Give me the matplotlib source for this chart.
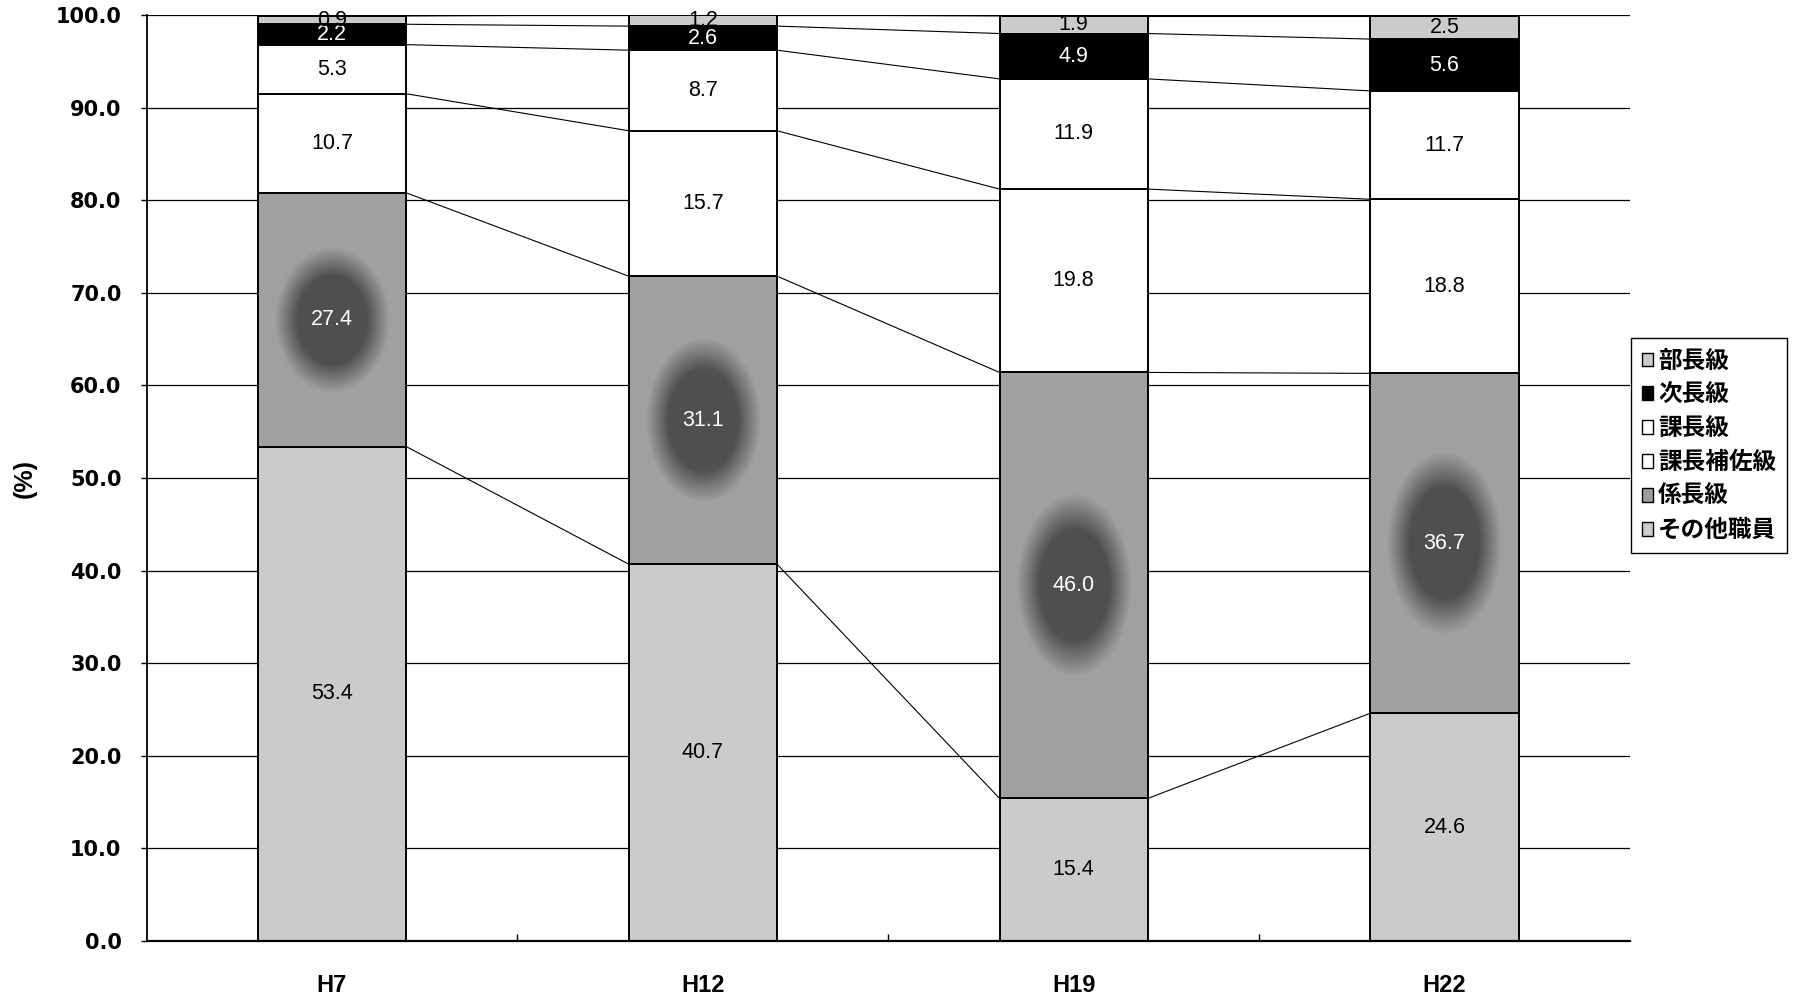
import numpy as np
import matplotlib
matplotlib.use("Agg")
import matplotlib.pyplot as plt
from matplotlib.patches import Patch, Rectangle

# Share of staff by position (%), stacked bottom to top
years = ["H7", "H12", "H19", "H22"]
series = ["その他職員", "係長級", "課長補佐級", "課長級", "次長級", "部長級"]
other_staff = [53.4, 40.7, 15.4, 24.6]
chief = [27.4, 31.1, 46.0, 36.7]
asst_section = [10.7, 15.7, 19.8, 18.8]
section = [5.3, 8.7, 11.9, 11.7]
deputy = [2.2, 2.6, 4.9, 5.6]
director = [0.9, 1.2, 1.9, 2.5]
y_ticks = [0, 10, 20, 30, 40, 50, 60, 70, 80, 90, 100]

values = [other_staff, chief, asst_section, section, deputy, director]
colors = ["#cbcbcb", "#9c9c9c", "#ffffff", "#ffffff", "#000000", "#cbcbcb"]
text_colors = ["black", "white", "black", "black", "white", "black"]

plt.rcParams["font.family"] = ["Liberation Sans", "DejaVu Sans"]

W, H = 1795, 1002
fig = plt.figure(figsize=(W / 100, H / 100), dpi=100)
ax = fig.add_axes([146.5 / W, 1 - 941 / H, (1630 - 146.5) / W, (941 - 15) / H])

x = np.arange(len(years))
bw = 0.4
bottoms = np.zeros(len(years))
bars_by_series = []
cum_levels = []
for vals, col in zip(values, colors):
    bars = ax.bar(x, vals, bw, bottom=bottoms, color=col, edgecolor="black",
                  linewidth=1.4, zorder=2)
    bars_by_series.append((bars, bottoms.copy(), np.array(vals)))
    bottoms = bottoms + np.array(vals)
    cum_levels.append(bottoms.copy())

# Centre-darkened shading on the 係長級 segments
bars, bot, vals = bars_by_series[1]
px_per_x = (1630 - 146.5) / 4.0
px_per_y = (941 - 15) / 100.0
for i, patch in enumerate(bars):
    b, h = bot[i], vals[i]
    nx, ny = 80, 240
    xs = np.linspace(-bw / 2, bw / 2, nx) * px_per_x
    ys = np.linspace(-h / 2, h / 2, ny) * px_per_y
    XX, YY = np.meshgrid(xs, ys)
    rx = 0.68 * (bw / 2) * px_per_x
    ry = min(0.5 * (h / 2) * px_per_y, 80)
    r = np.sqrt((XX / rx) ** 2 + (YY / ry) ** 2)
    dark = np.clip((1.15 - r) * 2.2, 0, 1)
    edge = np.array([0.63, 0.63, 0.63])
    centre = np.array([0.31, 0.31, 0.31])
    img = edge[None, None, :] * (1 - dark[..., None]) + centre[None, None, :] * dark[..., None]
    im = ax.imshow(img, extent=[x[i] - bw / 2, x[i] + bw / 2, b, b + h],
                   origin="lower", aspect="auto", zorder=2.1, interpolation="bilinear")
    im.set_clip_path(patch)
    ax.add_patch(Rectangle((x[i] - bw / 2, b), bw, h, facecolor="none",
                           edgecolor="black", linewidth=1.4, zorder=2.2))

# Series lines joining segment boundaries between neighbouring bars
for level in cum_levels:
    for i in range(len(years) - 1):
        ax.plot([x[i] + bw / 2, x[i + 1] - bw / 2], [level[i], level[i + 1]],
                color="black", linewidth=0.8, zorder=1.5)

# Value labels
for (bars, bot, vals), tc in zip(bars_by_series, text_colors):
    for i in range(len(years)):
        ax.text(x[i], bot[i] + vals[i] / 2, f"{vals[i]:.1f}", ha="center", va="center",
                fontsize=15.5, color=tc, zorder=4)

ax.set_xlim(-0.5, len(years) - 0.5)
ax.set_ylim(0, 100)
ax.set_yticks(y_ticks)
ax.set_yticklabels([f"{v:.1f}" for v in y_ticks], fontsize=15, fontweight="bold",
                   family=["DejaVu Sans"])
ax.yaxis.grid(True, color="black", linewidth=0.9)
ax.set_axisbelow(True)
ax.tick_params(axis="y", length=4, width=1, pad=14)

ax.set_xticks(x)
ax.set_xticklabels(years, fontsize=17, fontweight="bold")
ax.tick_params(axis="x", length=0, pad=24)
ax.set_xticks(x[:-1] + 0.5, minor=True)
ax.tick_params(axis="x", which="minor", direction="in", length=5, width=1)

for s in ["top", "right"]:
    ax.spines[s].set_visible(False)
ax.spines["left"].set_linewidth(1.3)
ax.spines["bottom"].set_linewidth(1.6)

fig.text(25 / W, 1 - 478 / H, "(%)", rotation=90, ha="center", va="center",
         fontsize=18, fontweight="bold")

handles = [Patch(facecolor=c, edgecolor="black", linewidth=1.0, label=s)
           for s, c in zip(series, colors)]
leg = fig.legend(handles[::-1], [h.get_label() for h in handles[::-1]],
                 loc="upper left", bbox_to_anchor=(1631 / W, 1 - 338 / H),
                 prop={"family": ["Noto Sans CJK JP", "DejaVu Sans"], "size": 17,
                       "weight": "bold"},
                 frameon=True, fancybox=False, edgecolor="black", framealpha=1,
                 handlelength=0.5, handleheight=0.5, handletextpad=0.2,
                 labelspacing=0.42, borderpad=0.45, borderaxespad=0)
leg.get_frame().set_linewidth(1.0)

fig.savefig("out.png", dpi=100)
